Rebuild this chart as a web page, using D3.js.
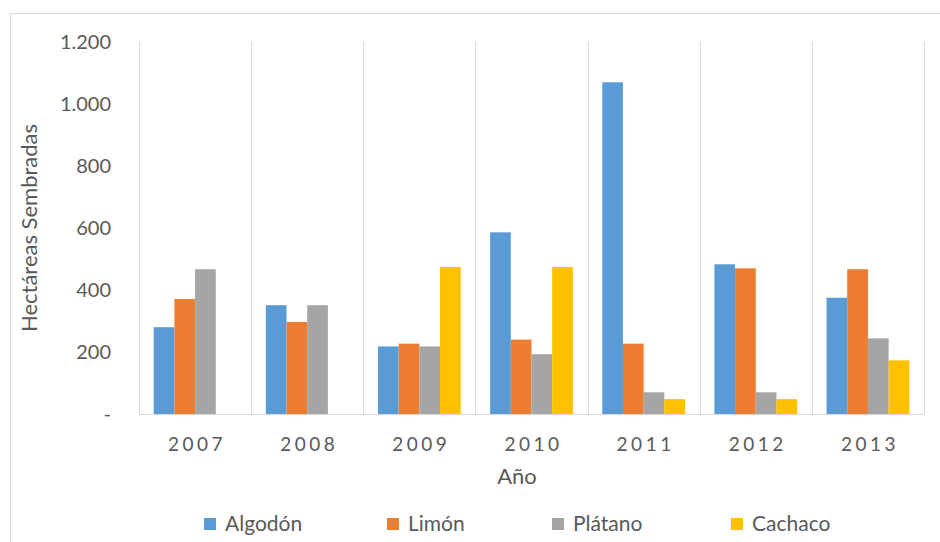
<!DOCTYPE html>
<html>
<head>
<meta charset="utf-8">
<script src="https://cdn.jsdelivr.net/npm/d3@7"></script>
<style>
  body { margin: 0; background: #fff; }
  text { font-family: Lato, "Open Sans", sans-serif; fill: #595959; }
</style>
</head>
<body>
<svg id="chart" width="940" height="542"></svg>
<script>
// data
var years = ["2007", "2008", "2009", "2010", "2011", "2012", "2013"];
var series = ["Algodón", "Limón", "Plátano", "Cachaco"];
var algodon = [280, 351, 218, 586, 1070, 483, 375];
var limon = [371, 297, 227, 240, 227, 470, 467];
var platano = [467, 351, 218, 193, 70, 70, 244];
var cachaco = [0, 0, 474, 474, 48, 48, 173];
var yTicks = [0, 200, 400, 600, 800, 1000, 1200];
var colors = ["#5b9bd5", "#ed7d31", "#a5a5a5", "#ffc000"];

var values = [algodon, limon, platano, cachaco];

var svg = d3.select("#chart");
var plotLeft = 139, plotRight = 924, plotTop = 42, plotBottom = 414;

// outer frame
svg.append("rect")
    .attr("x", 10.5).attr("y", 13.5)
    .attr("width", 940).attr("height", 540)
    .attr("fill", "none").attr("stroke", "#d9d9d9");

var x0 = d3.scaleBand().domain(years).range([plotLeft, plotRight]);
var bw = x0.bandwidth();
var pad = bw * 0.131;
var x1 = d3.scaleBand().domain(series).range([pad, bw - pad]);
var y = d3.scaleLinear().domain([0, 1200]).range([plotBottom, plotTop]);

// vertical grid lines at category edges
var edges = years.map(function (d) { return x0(d); }).concat([plotRight]);
svg.selectAll(".grid").data(edges).enter().append("line")
    .attr("x1", function (d) { return Math.round(d) + 0.5; })
    .attr("x2", function (d) { return Math.round(d) + 0.5; })
    .attr("y1", plotTop).attr("y2", plotBottom)
    .attr("stroke", "#d9d9d9");

// bars
var groups = svg.selectAll(".yr").data(years).enter().append("g")
    .attr("transform", function (d) { return "translate(" + x0(d) + ",0)"; });

groups.selectAll("rect")
    .data(function (d, i) {
        return series.map(function (s, j) { return { s: s, v: values[j][i], c: colors[j] }; });
    })
    .enter().append("rect")
    .attr("x", function (d) { return x1(d.s); })
    .attr("width", x1.bandwidth())
    .attr("y", function (d) { return y(d.v); })
    .attr("height", function (d) { return plotBottom - y(d.v); })
    .attr("fill", function (d) { return d.c; });

// x axis line
svg.append("line")
    .attr("x1", plotLeft).attr("x2", plotRight)
    .attr("y1", plotBottom + 0.5).attr("y2", plotBottom + 0.5)
    .attr("stroke", "#d9d9d9");

// y tick labels
svg.selectAll(".ytick").data(yTicks).enter().append("text")
    .attr("x", 111)
    .attr("y", function (d) { return y(d) + 7; })
    .attr("text-anchor", "end")
    .attr("font-size", "20px")
    .text(function (d) { return d === 0 ? "-" : d3.format(",")(d).replace(/,/g, "."); });

// x tick labels
svg.selectAll(".xtick").data(years).enter().append("text")
    .attr("x", function (d) { return x0(d) + bw / 2 + 2; })
    .attr("y", 451)
    .attr("text-anchor", "middle")
    .attr("font-size", "19px")
    .attr("letter-spacing", "3.5px")
    .text(function (d) { return d; });

// axis titles
svg.append("text")
    .attr("x", 517).attr("y", 484)
    .attr("text-anchor", "middle")
    .attr("font-size", "22px")
    .text("Año");

svg.append("text")
    .attr("transform", "translate(37,228) rotate(-90)")
    .attr("text-anchor", "middle")
    .attr("font-size", "22px")
    .text("Hectáreas Sembradas");

// legend
var legX = [204, 387, 552, 731];
var leg = svg.selectAll(".leg").data(series).enter().append("g")
    .attr("transform", function (d, i) { return "translate(" + legX[i] + ",518)"; });
leg.append("rect")
    .attr("x", 0).attr("y", 0).attr("width", 12).attr("height", 12)
    .attr("fill", function (d, i) { return colors[i]; });
leg.append("text")
    .attr("x", 21).attr("y", 13)
    .attr("font-size", "21px")
    .text(function (d) { return d; });
</script>
</body>
</html>
